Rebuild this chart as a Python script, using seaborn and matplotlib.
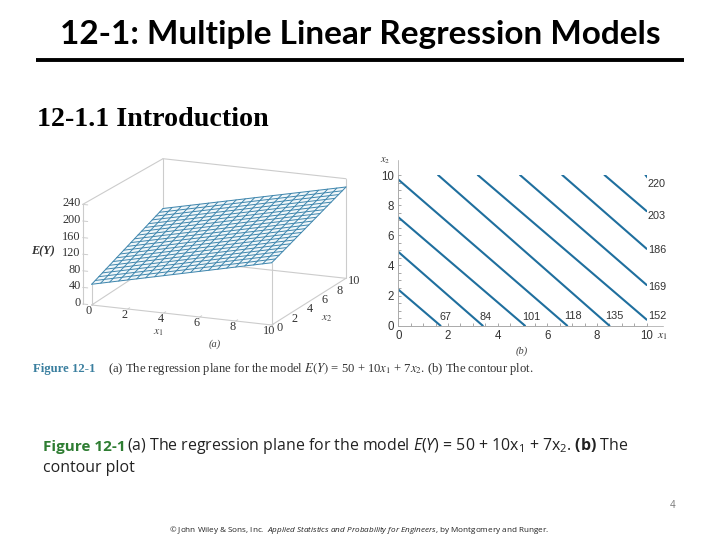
import matplotlib
matplotlib.use('Agg')
import matplotlib.pyplot as plt
import pandas as pd
import seaborn as sns

sns.set_style('white')
plt.rcParams['font.family'] = ['Lato', 'DejaVu Sans']
plt.rcParams['text.color'] = 'black'
plt.rcParams['mathtext.fontset'] = 'custom'
plt.rcParams['mathtext.rm'] = 'Open Sans'
plt.rcParams['mathtext.it'] = 'Open Sans:italic'
plt.rcParams['mathtext.bf'] = 'Open Sans:bold'

# surface mesh: E(Y) at both ends of each mesh line
mesh_x1 = [0, 0.5, 1, 1.5, 2, 2.5, 3, 3.5, 4, 4.5, 5, 5.5, 6, 6.5, 7, 7.5, 8, 8.5, 9, 9.5, 10]
ey_x2_low = [50, 55, 60, 65, 70, 75, 80, 85, 90, 95, 100, 105, 110, 115, 120, 125, 130, 135, 140, 145, 150]
ey_x2_high = [120, 125, 130, 135, 140, 145, 150, 155, 160, 165, 170, 175, 180, 185, 190, 195, 200, 205, 210, 215, 220]
mesh_x2 = [0, 0.5, 1, 1.5, 2, 2.5, 3, 3.5, 4, 4.5, 5, 5.5, 6, 6.5, 7, 7.5, 8, 8.5, 9, 9.5, 10]
ey_x1_low = [50, 53.5, 57, 60.5, 64, 67.5, 71, 74.5, 78, 81.5, 85, 88.5, 92, 95.5, 99, 102.5, 106, 109.5, 113, 116.5, 120]
ey_x1_high = [150, 153.5, 157, 160.5, 164, 167.5, 171, 174.5, 178, 181.5, 185, 188.5, 192, 195.5, 199, 202.5, 206, 209.5, 213, 216.5, 220]

ey_ticks = [0, 40, 80, 120, 160, 200, 240]
x_ticks = [0, 2, 4, 6, 8, 10]
minor_ticks = [0.5, 1, 1.5, 2.5, 3, 3.5, 4.5, 5, 5.5, 6.5, 7, 7.5, 8.5, 9, 9.5]

# contour lines
levels = [67, 84, 101, 118, 135, 152, 169, 186, 203, 220]
line_x1_start = [0, 0, 0, 0, 1.6, 3.2, 4.9, 6.6, 8.3, 9.95]
line_x2_start = [2.4, 4.9, 7.2, 9.7, 10, 10, 10, 10, 10, 10]
line_x1_end = [1.7, 3.4, 5.1, 6.8, 8.5, 10, 10, 10, 10, 10.05]
line_x2_end = [0, 0, 0, 0, 0, 0.4, 2.7, 5.1, 7.6, 9.8]

BLUE = '#3f86ad'
GRAY = '#cccccc'


def project(x1, x2, ey):
    # box corners of panel (a) on the slide, in pixels
    u = x1 / 10
    v = x2 / 10
    px = (1 - u) * (1 - v) * 91.7 + u * (1 - v) * 271.7 + u * v * 346 + (1 - u) * v * 163
    py = (1 - u) * (1 - v) * 305 + u * (1 - v) * 325 + u * v * 278.3 + (1 - u) * v * 258.3
    return px, py - ey * 0.415


def line3d(ax, a, b, **kw):
    p, q = project(*a), project(*b)
    ax.plot([p[0], q[0]], [p[1], q[1]], **kw)


fig = plt.figure(figsize=(7.2, 5.4), dpi=100)
slide = fig.add_axes([0, 0, 1, 1])
slide.set_xlim(0, 720)
slide.set_ylim(540, 0)
slide.axis('off')

# slide text
slide.text(360, 34.5, '12-1: Multiple Linear Regression Models', ha='center', va='center',
           fontsize=24, fontweight='bold', color='black')
slide.plot([36, 684], [60, 60], color='black', lw=2.8, solid_capstyle='butt')
slide.text(37, 119, '12-1.1 Introduction', ha='left', va='center', fontsize=20.2,
           fontweight='bold', family='Liberation Serif', color='black')

# panel (a) box
gray_kw = dict(color=GRAY, lw=0.8, zorder=1)
line3d(slide, (-0.5, 0, 0), (-0.5, 0, 240), **gray_kw)
line3d(slide, (-0.5, 0, 240), (0, 10, 240), **gray_kw)
line3d(slide, (0, 10, 0), (0, 10, 240), **gray_kw)
line3d(slide, (0, 10, 240), (10, 10, 240), **gray_kw)
line3d(slide, (10, 10, 0), (10, 10, 240), **gray_kw)
line3d(slide, (0, 0, 0), (10, 0, 0), **gray_kw)
line3d(slide, (10, 0, 0), (10, 10, 0), **gray_kw)
line3d(slide, (0, 0, 0), (0, 10, 0), **gray_kw)
line3d(slide, (0, 10, 0), (10, 10, 0), **gray_kw)
line3d(slide, (0, 0, 0), (0, 0, 50), **gray_kw)
line3d(slide, (10, 0, 0), (10, 0, 150), **gray_kw)

# plane
corners = [project(0, 0, 50), project(10, 0, 150), project(10, 10, 220), project(0, 10, 120)]
slide.fill([c[0] for c in corners], [c[1] for c in corners], color='#eef6fa', alpha=0.85, zorder=2)
for i in range(len(mesh_x1)):
    line3d(slide, (mesh_x1[i], 0, ey_x2_low[i]), (mesh_x1[i], 10, ey_x2_high[i]),
           color=BLUE, lw=0.7, zorder=3)
for i in range(len(mesh_x2)):
    line3d(slide, (0, mesh_x2[i], ey_x1_low[i]), (10, mesh_x2[i], ey_x1_high[i]),
           color=BLUE, lw=0.7, zorder=3)

# panel (a) ticks
serif = dict(family='Liberation Serif', color='#333333', fontsize=8.8)
for t in ey_ticks:
    p = project(-0.5, 0, t)
    slide.plot([p[0], p[0] + 5], [p[1], p[1] + 0.5], color=GRAY, lw=0.7)
    slide.text(p[0] - 2, p[1] - 1, str(t), ha='right', va='center', **serif)
for t in x_ticks:
    p = project(t, 0, 0)
    slide.text(p[0] - 3, p[1] + 6, str(t), ha='center', va='center', **serif)
    q = project(10, t, 0)
    slide.text(q[0] + 8, q[1] + 3, str(t), ha='center', va='center', **serif)
    slide.plot([p[0], p[0] + 2], [p[1], p[1] - 1.2], color=GRAY, lw=0.7)
slide.text(43, 251, 'E(Y)', ha='center', va='center', fontsize=8.8, style='italic',
           fontweight='bold', family='Liberation Serif', color='#333333')
slide.text(158, 333, '$x_1$', ha='center', va='center', fontsize=8.5, color='#444444',
           math_fontfamily='stix')
slide.text(327, 318, '$x_2$', ha='center', va='center', fontsize=8.5, color='#444444',
           math_fontfamily='stix')
slide.text(215, 344, '(a)', ha='center', va='center', fontsize=7.5, style='italic',
           family='Liberation Serif', color='#444444')

# panel (b)
ax = fig.add_axes([398.3 / 720, 1 - 325.7 / 540, 248.4 / 720, 150.7 / 540])
rows = []
for i, lev in enumerate(levels):
    rows.append((lev, line_x1_start[i], line_x2_start[i]))
    rows.append((lev, line_x1_end[i], line_x2_end[i]))
df = pd.DataFrame(rows, columns=['level', 'x1', 'x2'])
sns.lineplot(data=df, x='x1', y='x2', units='level', estimator=None, sort=False,
             color='#1f6f9e', lw=1.5, ax=ax)
ax.set_xlim(0, 10)
ax.set_ylim(0, 10)
ax.patch.set_alpha(0)
ax.set_xlabel('')
ax.set_ylabel('')
for side in ['top', 'right']:
    ax.spines[side].set_visible(False)
for side in ['left', 'bottom']:
    ax.spines[side].set_color('#aaaaaa')
    ax.spines[side].set_linewidth(0.7)
ax.set_xticks(x_ticks)
ax.set_yticks(x_ticks)
ax.set_xticks(minor_ticks, minor=True)
ax.set_yticks(minor_ticks, minor=True)
ax.tick_params(which='both', direction='in', length=2.5, width=0.6, color='#999999', bottom=True, left=True,
               labelsize=8.3, labelcolor='#333333', pad=3)
for lab in ax.get_xticklabels() + ax.get_yticklabels():
    lab.set_family('Liberation Sans')
slide.plot([646, 663], [325.7, 325.7], color='#bbbbbb', lw=0.7)
slide.plot([398.3, 398.3], [175, 160], color='#bbbbbb', lw=0.7)
slide.text(385, 161, '$x_2$', ha='center', va='center', fontsize=7.5, color='#333333',
           math_fontfamily='stix')
slide.text(662, 336, '$x_1$', ha='center', va='center', fontsize=8.5, color='#333333',
           math_fontfamily='stix')
slide.text(522, 351, '(b)', ha='center', va='center', fontsize=7.5, style='italic',
           family='Liberation Serif', color='#444444')

# contour labels
label_pos = [(445, 317), (486, 317), (531, 317), (573, 316), (614, 316), (648, 316),
             (648, 287), (648, 250), (648, 216), (648, 184)]
for lev, (px, py) in zip(levels, label_pos):
    slide.text(px, py, str(lev), ha='center' if px < 640 else 'left', va='center',
               fontsize=7.8, color='#333333', family='Liberation Sans')

# printed figure caption
slide.text(33, 369, 'Figure 12-1', color='#3a7f9f', fontsize=9.2, fontweight='bold',
           family='Liberation Serif', va='center')
slide.text(108, 369, '(a) The regression plane for the model $E(Y)$ = 50 + 10$x_1$ + 7$x_2$. (b) The contour plot.',
           color='#333333', fontsize=9.1, family='Liberation Serif', va='center', math_fontfamily='stix')

# slide caption
slide.text(43, 446.5, 'Figure 12-1', fontsize=11, fontweight='bold', color='#2e7d32', va='center',
           family='Open Sans')
slide.text(127, 446.5, '(a) The regression plane for the model $E(Y)$ = 50 + 10x$_1$ + 7x$_2$. $\\mathbf{(b)}$ The',
           fontsize=11.4, color='#222222', va='center', family='Open Sans')
slide.text(43, 468, 'contour plot', fontsize=11.4, color='#222222', va='center', family='Open Sans')

slide.text(673, 506, '4', fontsize=7, color='#777777', ha='center', va='center', family='Open Sans')
slide.text(359, 530, '© John Wiley & Sons, Inc.  $\\mathit{Applied\\ Statistics\\ and\\ Probability\\ for\\ Engineers}$, by Montgomery and Runger.',
           fontsize=5.85, color='#222222', ha='center', va='center', family='Open Sans')

fig.savefig('out.png', dpi=100)
